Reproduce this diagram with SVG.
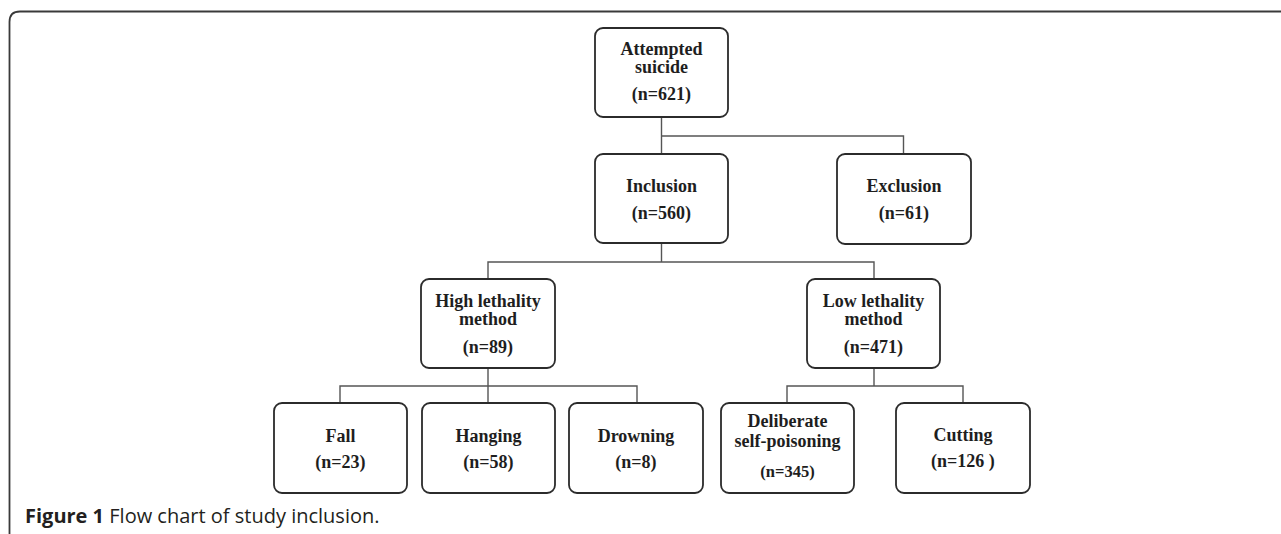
<svg xmlns="http://www.w3.org/2000/svg" width="1281" height="534" viewBox="0 0 1281 534">
<style>
.box{fill:#fff;stroke:#2b2b2b;stroke-width:1.8}
.lbl{font-family:"Liberation Serif","Times New Roman",serif;font-weight:bold;font-size:18px;fill:#1e1e1e;text-anchor:middle}
.sm{font-size:16.5px}
.con{fill:none;stroke:#555;stroke-width:1.4}
.frame{fill:none;stroke:#3a3a3a;stroke-width:1.8}
.cap{font-family:"Open Sans","Liberation Sans",sans-serif;font-size:20px;fill:#231f20}
</style>
<rect width="1281" height="534" fill="#fff"/>
<path class="frame" d="M9.5,540 V22 Q9.5,11.5 20,11.5 H1290"/>
<g id="connectors">
<path class="con" d="M661.5,117 V154 M661.5,136 H903.5 V154"/>
<path class="con" d="M661.5,243 V262 M488,279 V262 H874 V279"/>
<path class="con" d="M488,368 V403 M340,403 V386 H637 V403"/>
<path class="con" d="M874,368 V386 M787,403 V386 H963 V403"/>
</g>
<g id="attempted"><rect class="box" x="595" y="28" width="133" height="89" rx="8"/>
<text class="lbl" x="661.5" y="55">Attempted</text><text class="lbl" x="661.5" y="73">suicide</text><text class="lbl" x="661.5" y="100">(n=621)</text></g>
<g id="inclusion"><rect class="box" x="595" y="154" width="133" height="89" rx="8"/>
<text class="lbl" x="661.5" y="192">Inclusion</text><text class="lbl" x="661.5" y="219">(n=560)</text></g>
<g id="exclusion"><rect class="box" x="837" y="154" width="134" height="90" rx="8"/>
<text class="lbl" x="904" y="192">Exclusion</text><text class="lbl" x="904" y="219">(n=61)</text></g>
<g id="high"><rect class="box" x="421" y="279" width="134" height="89" rx="8"/>
<text class="lbl" x="488" y="307">High lethality</text><text class="lbl" x="488" y="325">method</text><text class="lbl" x="488" y="353">(n=89)</text></g>
<g id="low"><rect class="box" x="807" y="279" width="133" height="89" rx="8"/>
<text class="lbl" x="873.5" y="307">Low lethality</text><text class="lbl" x="873.5" y="325">method</text><text class="lbl" x="873.5" y="353">(n=471)</text></g>
<g id="fall"><rect class="box" x="274" y="403" width="133" height="90" rx="8"/>
<text class="lbl" x="340.5" y="442">Fall</text><text class="lbl" x="340.5" y="468">(n=23)</text></g>
<g id="hanging"><rect class="box" x="422" y="403" width="133" height="90" rx="8"/>
<text class="lbl" x="488.5" y="442">Hanging</text><text class="lbl" x="488.5" y="468">(n=58)</text></g>
<g id="drowning"><rect class="box" x="569" y="403" width="134" height="90" rx="8"/>
<text class="lbl" x="636" y="442">Drowning</text><text class="lbl" x="636" y="468">(n=8)</text></g>
<g id="deliberate"><rect class="box" x="721" y="403" width="133" height="90" rx="8"/>
<text class="lbl" x="787.5" y="427">Deliberate</text><text class="lbl" x="787.5" y="447">self-poisoning</text><text class="lbl sm" x="787.5" y="477">(n=345)</text></g>
<g id="cutting"><rect class="box" x="896" y="403" width="134" height="90" rx="8"/>
<text class="lbl" x="963" y="441">Cutting</text><text class="lbl" x="963" y="467">(n=126 )</text></g>
<text class="cap" x="25" y="523"><tspan font-weight="bold">Figure 1</tspan> Flow chart of study inclusion.</text>
</svg>
